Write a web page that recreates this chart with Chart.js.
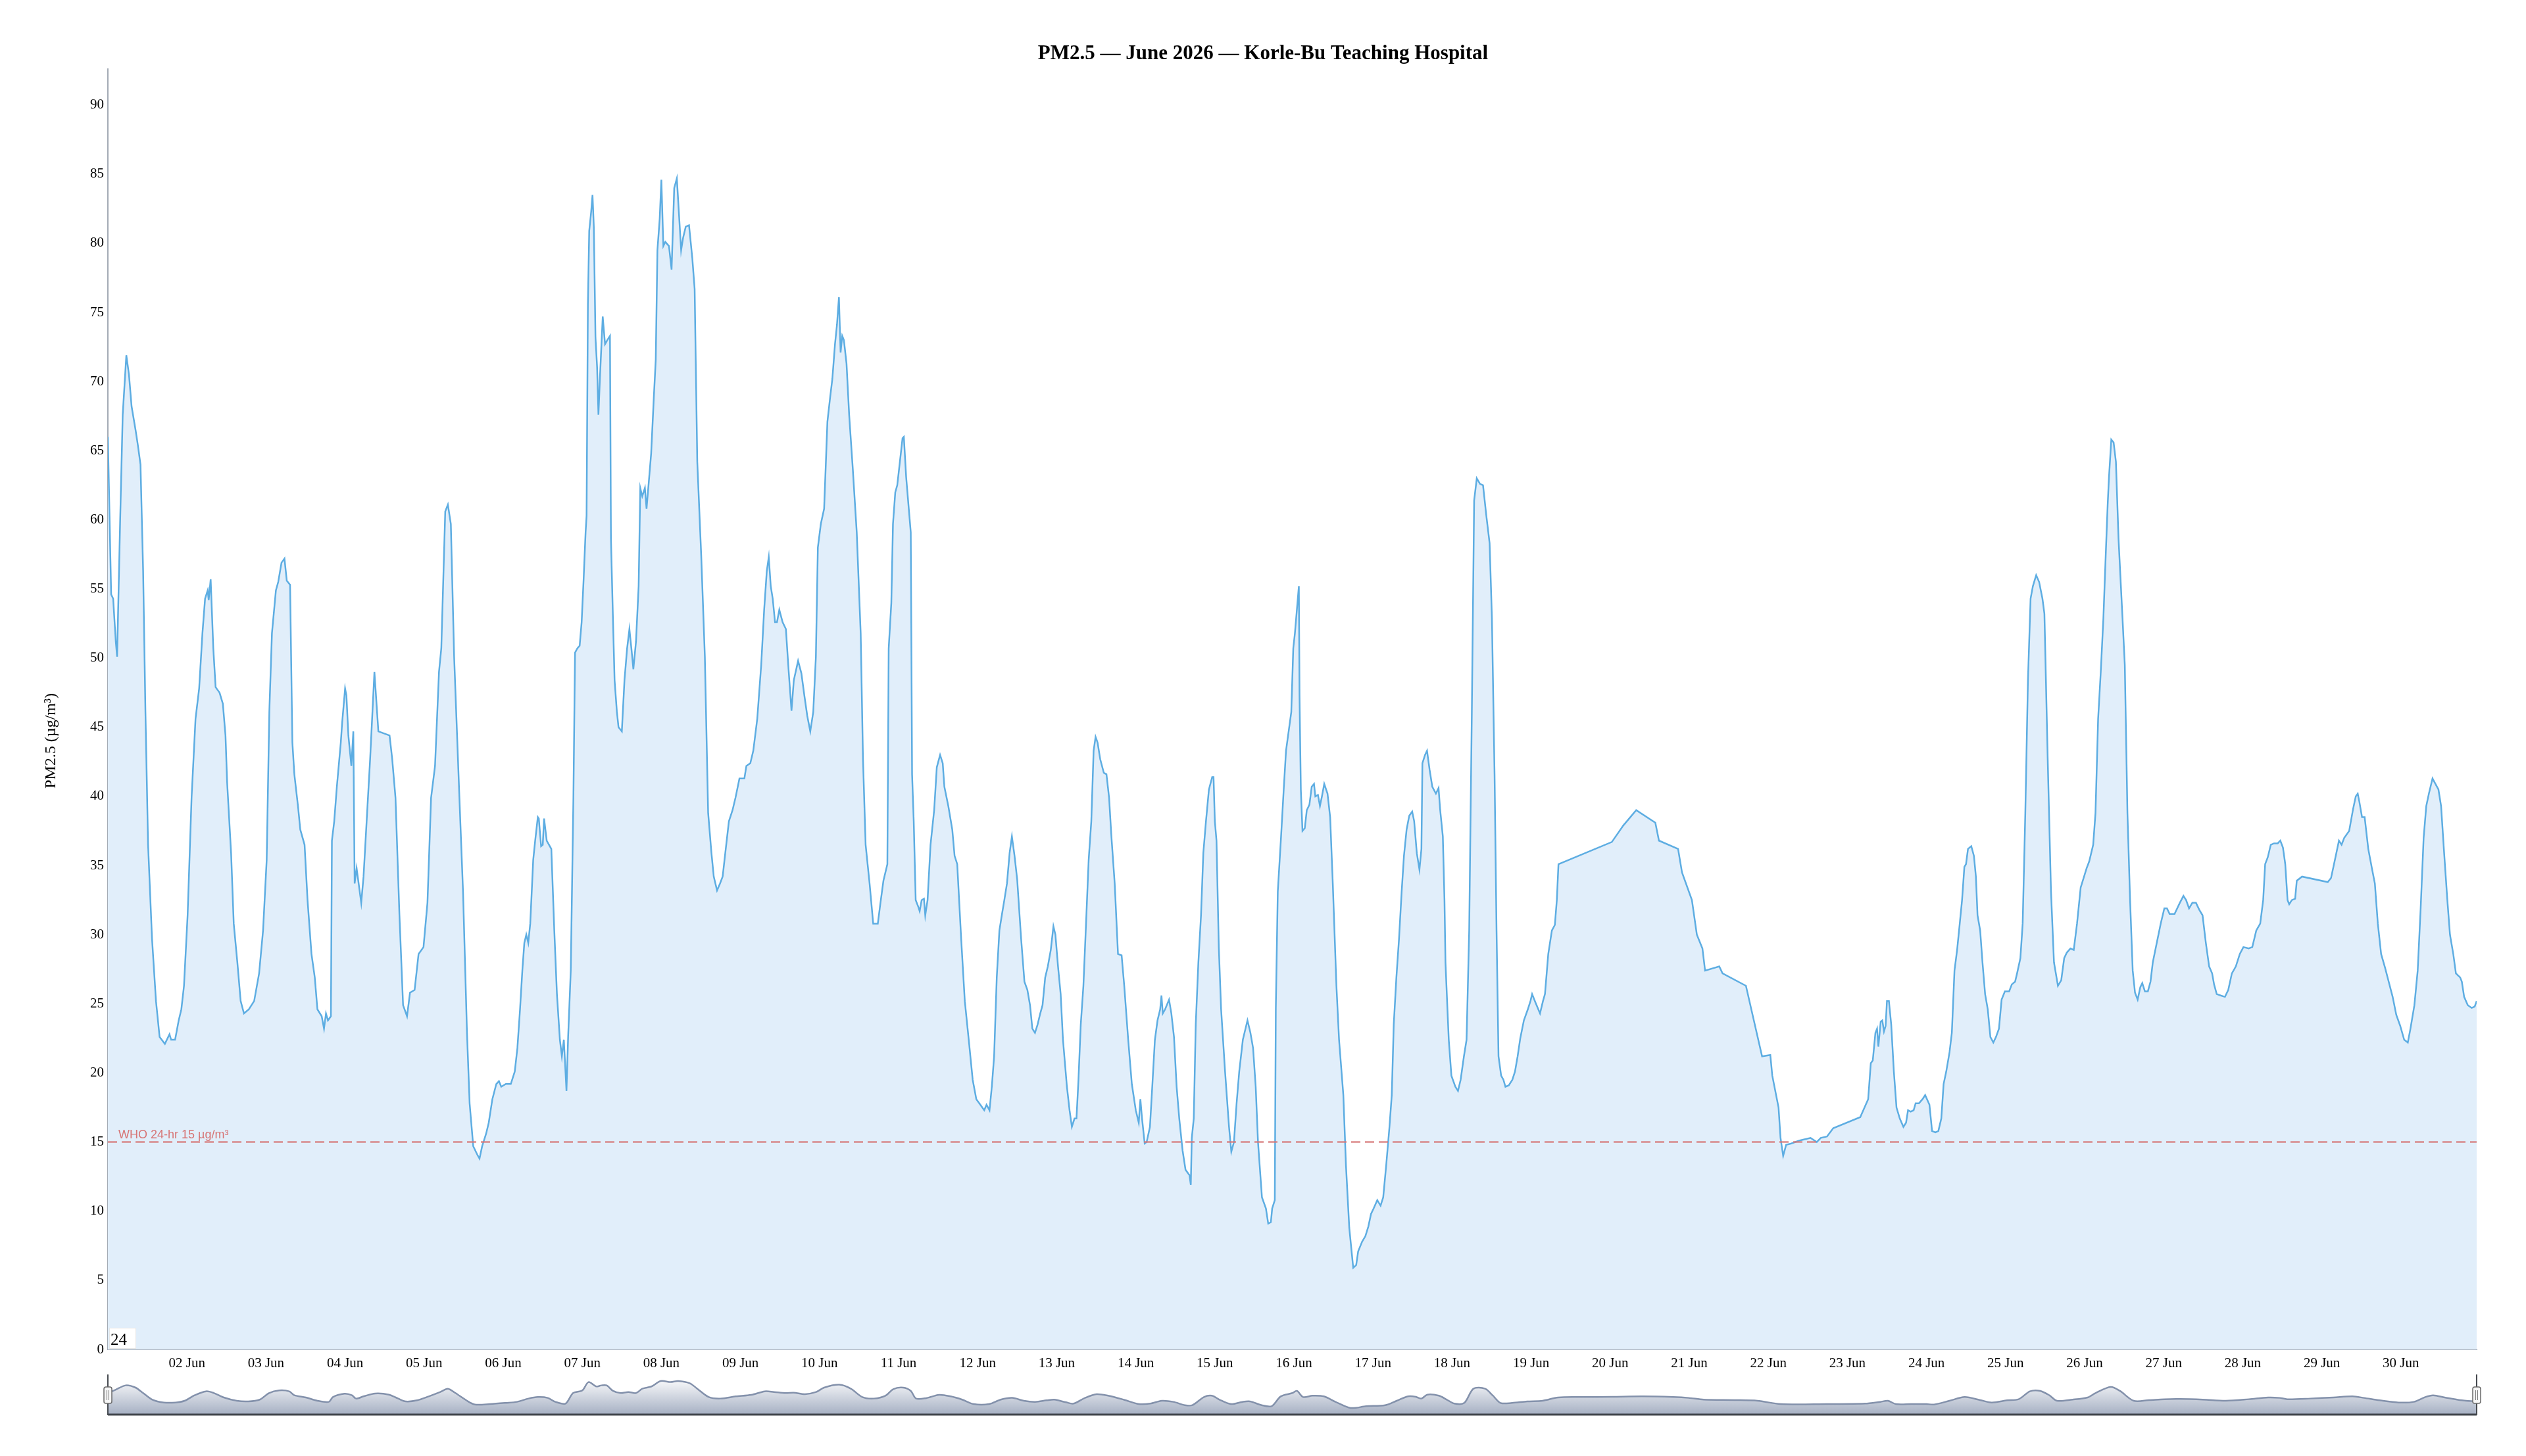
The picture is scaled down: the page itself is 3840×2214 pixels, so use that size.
<!DOCTYPE html>
<html>
<head>
<meta charset="utf-8">
<title>PM2.5 — June 2026 — Korle-Bu Teaching Hospital</title>
<script src="https://cdn.jsdelivr.net/npm/chart.js@4.4.1/dist/chart.umd.min.js"></script>
<style>
  html, body { margin: 0; padding: 0; background: #ffffff; overflow: hidden; }
  #mainChart { position: absolute; left: 0; top: 0; }
  #rangeChart { position: absolute; left: 0; top: 2085px; }
</style>
</head>
<body>
<canvas id="mainChart" width="3840" height="2214"></canvas>
<canvas id="rangeChart" width="3840" height="75"></canvas>
<script>
// hours since 01 Jun 00:00 and the PM2.5 reading at that hour (µg/m³)
const hours = [
  0,1,1.6,2.4,2.8,3.7,4.5,5.6,6.4,7.2,8.4,9.1,
  9.9,10.7,11.4,12.2,13.4,14.6,15.7,17.3,18.7,19.2,20.4,21.5,
  22.3,23.1,24.2,25.4,26.6,27.7,28.7,29.5,30.3,30.6,31.2,32,
  32.7,33.9,34.9,35.7,36.2,37.4,38.2,39.3,40.3,41.3,42.8,44.4,
  45.9,47.1,48.2,49,49.8,51,51.7,52.7,53.6,54.3,55.3,56,
  56.6,57.7,58.4,59.7,60.6,61.8,62.8,63.6,64.9,65.6,66.2,66.8,
  67.7,68,68.7,69.5,70.7,71.1,72,72.4,73,73.9,74.5,74.9,
  75.5,76.9,77.6,78.4,79.6,80.9,82.1,85.5,86.3,87.3,88.5,89.6,
  90.8,91.7,93.1,94.3,95.8,97,98.1,99.3,100.5,101.2,102.4,103.2,
  104.1,105.1,106.7,107.8,109,109.8,110.9,112.1,112.8,113.6,114.8,115.6,
  116.7,117.9,118.7,119.4,
  120.8,122.3,123.5,124.3,125.1,125.8,126.4,127,127.6,128.2,129.1,129.7,
  130.5,130.8,131.5,132,132.4,133.2,133.9,134.6,135.5,136.3,137.2,137.8,
  138.4,139.2,139.7,140.5,141.3,141.8,142.5,143.2,143.8,144.4,145,145.3,
  145.7,146.1,146.7,147.1,147.5,148,148.5,148.9,149.4,150.2,150.9,151.6,
  152.4,152.7,153.3,153.8,154.5,155,156,156.8,157.6,158.3,158.9,159.5,
  160.3,161.1,161.6,162.2,163,163.5,164.1,164.9,165.7,166.3,166.8,167.5,
  168,168.6,169.2,170.3,171.1,171.9,172.7,173.3,174,174.6,175.4,176.4,
  177.4,178.1,178.9,180.1,181.2,182.2,183.2,183.9,184.9,185.8,186.6,187.4,
  188.5,189.6,190.5,191.7,193.2,193.8,195,195.9,197.1,198.3,199.2,200,
  200.6,201.2,201.8,202.5,203.1,203.8,204.8,205.8,206.6,207.5,208.2,209.5,
  210.5,211.4,212.3,213.2,214.1,214.9,215.5,216.4,217.4,218.4,219.2,219.9,
  220.7,221.3,221.9,222.4,222.9,223.4,224.2,225,226.1,227.3,228.5,229.2,
  230,231.2,232.3,233.7,234.5,235.4,236.6,237,237.8,238.3,239,
  239.6,240.4,241.2,241.6,242.3,243.1,243.7,244.1,244.6,245.2,246,246.4,
  247,247.7,248.1,248.8,249.7,250.8,251.6,252.6,253.4,253.9,255.1,256.3,
  257,257.8,259,260.1,261.3,262.5,263.6,264.8,266,266.7,267.6,268.3,
  269,269.8,270.6,271.4,272.1,272.9,273.7,274.4,275.2,276,277.2,278.2,
  279.1,279.9,280.6,281.4,282.2,283,283.7,284.5,285.3,286.2,287,287.6,
  288.4,289.2,289.9,291.1,291.9,292.6,293.4,294,294.6,295.3,296.1,296.9,
  297.7,298.5,299.2,299.8,300.4,301.2,302.3,303.1,303.9,304.6,305.6,306.6,
  307.7,308.5,309.7,310.8,312,312.9,313.4,313.9,314.7,315.3,316.3,317,
  317.8,318.6,319.4,319.8,320.2,320.9,322.1,322.8,323.6,324.4,325.2,326.2,
  327.1,328.3,328.7,329,329.6,330.2,331,331.8,332.5,333.3,334.2,335.2,
  335.6,336,336.5,337.2,337.9,339.1,340.3,341,341.8,342.6,343.4,344.5,
  345.3,345.9,346.8,347.6,348.4,349.1,350.3,351.5,352.2,353,353.4,354.2,
  354.5,355.1,356.1,356.9,357.6,
  359.2,359.8,360.3,360.9,361.5,361.7,362.1,362.6,363.3,363.9,364.7,365.4,
  366.1,366.5,367.3,367.9,368.5,369.2,370.2,371,371.8,372.9,373.7,375,
  375.8,376.8,378,378.9,379.5,380.7,381.7,382.6,383.4,384.2,385.3,386.3,
  387.1,388,389,389.7,390.3,391.1,391.9,392.7,393.4,394.2,395,395.9,
  396.5,397.3,398.1,398.7,399,399.8,400.4,401.2,402,403.1,403.9,404.4,
  405.2,405.7,406,406.6,407,407.8,409,409.8,410.6,411.6,412.4,413.2,
  414,414.7,415.5,416.5,417.4,418.4,419.4,420.1,420.9,421.5,422.1,422.9,
  423.6,424.2,425.2,426.3,427.1,427.9,428.7,429.8,431,431.8,432.3,433.3,
  434.7,435.6,436.2,437.2,438.3,439.2,439.8,440.3,456.5,460,463.9,469.7,
  470.8,476.6,477.8,
  480.8,482.3,484,484.8,489.1,490.1,497.2,502.1,504.6,505.2,507.1,507.7,
  508.5,509.4,511,513.3,516.8,518.7,519.9,521.8,523.7,531.9,534.3,535.1,
  535.7,536.5,537,537.4,538.1,538.6,539.1,539.6,540,540.6,541.3,542.1,
  542.9,543.9,545,545.8,546.4,547.2,548.1,548.7,549.7,550.8,551.6,552.9,
  553.7,554.7,555.6,556.5,557.2,558,559,559.7,560.5,561.3,562.1,562.8,
  563.5,564,564.6,565.6,566.4,567,567.5,568.3,569,569.8,570.6,571.4,
  572.3,573.1,574,574.8,575.8,577.1,577.9,578.9,579.5,580.5,581.2,582,
  582.8,583.6,584.3,585.3,586.2,587.2,587.8,588.8,589.8,590.7,591.9,592.9,
  593.8,594.6,595.7,596.7,597.7,598.8,
  600.6,601.4,602.6,603.3,604.1,604.9,605.7,606.4,607,607.4,608.1,608.8,
  609.5,610.3,611.5,612.2,613,613.8,614.6,615.3,616.1,616.9,617.5,618.3,
  619.2,620,620.7,621.9,623.1,624.2,625,625.8,627.3,628.9,630,630.8,
  631.7,632.7,633.8,634.8,635.8,636.8,637.8,638.7,639.3,640.1,641.3,642.6,
  643.6,644.7,645.9,647.1,648.2,649.8,650.9,652.1,653.3,654.2,654.8,655.6,
  656.5,657.5,658.6,659.4,660.2,660.9,661.6,662.1,662.9,663.9,664.4,666,
  673.8,674.8,675.7,676.5,677.2,678,678.8,680.3,681.5,682.3,682.9,683.4,
  684.2,685,686.1,687.2,688.1,689,690,691.2,692.3,693.5,694.6,695.8,
  697,698.1,698.9,700.1,701.1,702,702.9,703.7,704.5,705.6,706.5,707.4,
  708.2,709.1,710.1,710.9,711.9,712.7,714,714.5,715.2,716.3,717.5,718.4,719
];

const pm25 = [
  66,54.6,54.3,51.2,50.1,59.7,67.6,71.9,70.5,68.2,66.5,65.4,
  64,56.3,46.1,36.5,29.7,25.2,22.6,22.1,22.8,22.4,22.4,23.8,
  24.6,26.3,31.4,39.9,45.6,47.8,51.8,54.3,54.9,54.2,55.7,50.7,
  47.9,47.5,46.7,44.4,41,35.9,30.8,28,25.2,24.3,24.6,25.2,
  27.2,30.3,35.4,46.1,51.8,54.9,55.5,56.9,57.2,55.6,55.3,43.9,
  41.6,39.3,37.6,36.5,32.5,28.6,26.9,24.6,24.1,23.2,24.3,23.8,
  24.1,36.8,38.2,40.7,43.9,45.3,47.8,47.3,44.4,42.2,44.7,33.7,
  34.8,32.3,34.2,37.6,42.7,49,44.7,44.4,42.7,39.9,31.4,24.9,
  24.1,25.8,26,28.6,29.1,32.3,39.9,42.2,49,50.7,60.6,61.1,
  59.7,50.1,39.9,33.1,22.9,17.8,14.7,14.1,13.8,14.7,15.6,16.4,
  18.1,19.2,19.4,19,
  19.2,19.2,20.1,21.8,24.6,27.4,29.4,30,29.4,30.8,35.4,36.8,
  38.5,38.4,36.4,36.5,38.4,36.8,36.5,36.2,30.3,25.7,22.4,21.2,
  22.4,18.7,22.6,27.4,39.9,50.4,50.7,50.9,52.6,55.7,59.1,60.3,
  75.6,80.9,82.3,83.5,81.2,73.2,71,67.6,70.5,74.7,72.7,73,
  73.3,58.6,52.9,48.4,46.1,45,44.7,48.4,50.7,52.1,50.7,49.2,
  51.2,55.2,62.3,61.7,62.3,60.8,62.5,64.8,68.8,71.6,79.5,81.8,
  84.6,79.8,80.1,79.8,78.1,84,84.7,82.3,79.5,80.4,81.2,81.3,
  78.9,76.7,64.2,57.4,50.1,38.8,35.9,34.2,33.2,33.7,34.2,35.9,
  38.2,39,39.9,41.3,41.3,42.2,42.4,43.3,45.6,49.5,53.5,56.3,
  57.3,55.2,54.3,52.6,52.6,53.5,52.6,52.1,49.2,46.2,48.4,49.8,
  48.9,47.3,45.8,44.7,46.1,50.1,58,59.7,60.8,67.1,68.8,70.2,
  72.7,74.1,76.1,72.1,73.3,73,71.3,67.6,63.7,59.1,51.8,42.7,
  36.5,33.7,30.8,30.8,32.3,33.9,35.1,50.7,54,59.7,62,
  62.5,64.2,65.9,66,63.1,60.8,59.1,41.6,38.2,32.5,32,31.7,
  32.5,32.6,31.4,32.5,36.5,39,42.1,43,42.4,40.7,39.3,37.6,
  35.7,35.1,29.7,25.2,22.4,19.5,18.1,17.7,17.3,17.7,17.3,19,
  21.2,26.9,30.3,31.5,32.5,33.7,35.9,37.1,35.7,34,29.7,26.6,
  26,24.9,23.2,22.9,23.5,24.3,24.9,26.9,27.7,28.9,30.6,30,
  27.7,25.7,22.4,19,17.3,16.1,16.7,16.7,19.5,23.5,26.3,30.8,
  35.4,38.2,43.3,44.3,43.9,42.7,41.7,41.6,39.9,37.1,33.7,28.6,
  28.5,26.3,22.4,19.2,17.3,16.4,18.1,16.7,14.9,15,16.1,19,
  22.4,23.8,24.6,25.6,24.3,24.6,25.3,24.3,22.6,19,16.7,14.4,
  13,12.6,11.9,15.3,16.7,23.5,28,31.4,35.9,38.2,40.5,41.4,
  41.4,38.2,36.8,29.1,24.6,20.1,16.1,14.3,15,17.8,20.1,22.4,
  23.2,23.8,22.9,21.8,19,15,11,10.2,9.1,9.2,10.2,10.8,
  24.6,33.1,37.1,40.5,43.3,
  46.1,50.7,51.8,53.5,55.2,47.3,40.5,37.5,37.7,39,39.4,40.7,
  40.9,40,40.1,39.3,40,40.9,40.2,38.5,33.7,26.3,22.4,18.4,
  13.3,8.8,5.9,6.1,7.1,7.8,8.2,8.9,9.8,10.2,10.8,10.4,
  11,13.3,16.1,18.4,23.5,26.9,29.7,33.1,35.7,37.6,38.6,38.9,
  38.2,35.9,34.7,36.2,42.4,43,43.3,41.9,40.7,40.2,40.6,39,
  37.1,32.5,28,24.6,22.4,19.8,19,18.7,19.5,21.2,22.4,30.3,
  46.1,61.4,63,62.6,62.5,60.3,58.3,52.9,41.6,30.3,21.2,19.8,
  19.5,19,19.1,19.5,20.1,21.2,22.5,23.8,24.6,25.2,25.7,25.1,
  24.3,25.2,25.7,28.6,30.3,30.7,32.5,35.1,36.7,37.9,39,38.1,
  36.8,36.2,34.5,
  32.5,30,29,27.4,27.7,27.2,26.3,21.2,21.3,19.8,17.5,15.3,
  14,14.8,14.9,15.1,15.3,15,15.3,15.4,16,16.8,18.1,20.7,
  20.9,22.9,23.2,21.9,23.7,23.8,23,23.4,25.2,25.2,23.5,20.1,
  17.5,16.7,16.1,16.4,17.3,17.2,17.3,17.8,17.8,18.1,18.4,17.7,
  15.8,15.7,15.8,16.7,19.2,20.1,21.5,22.9,27.4,28.9,30.8,32.5,
  34.9,35.1,36.2,36.4,35.7,34.2,31.4,30.3,28,25.7,24.6,22.6,
  22.2,22.6,23.2,25.3,25.9,25.9,26.4,26.6,27.2,28.3,30.8,38.8,
  48.4,54.3,55.2,56,55.5,54.3,53.2,42.7,33.1,28,26.3,26.7,
  28.3,28.7,29,28.9,30.8,33.4,
  34.8,35.3,36.5,38.8,45.6,49,52.9,57.4,61.1,63.1,65.8,65.6,
  64.2,58.6,52.9,49.5,38.8,32.5,27.4,25.8,25.3,26.2,26.5,25.9,
  25.9,26.6,28,29.4,30.8,31.9,31.9,31.5,31.5,32.3,32.8,32.5,
  31.9,32.3,32.3,31.8,31.4,29.4,27.7,27.2,26.4,25.7,25.6,25.5,
  26,27.2,27.7,28.6,29.1,29,29.1,30.3,30.8,32.5,35.1,35.6,
  36.5,36.6,36.6,36.8,36.3,35.1,32.5,32.2,32.5,32.6,33.9,34.2,
  33.8,34.1,35.1,36,36.8,36.5,37,37.5,39.1,40,40.2,39.6,
  38.5,38.5,36.2,34.8,33.7,30.8,28.6,27.6,26.6,25.5,24.2,23.4,
  22.4,22.2,23.2,24.9,27.4,31.9,37,39.3,40.2,41.3,40.9,40.5,
  39.3,36,32.5,30,28.6,27.2,26.9,26.6,25.5,24.9,24.7,24.8,25.2
];

// smoothed overview trace shown in the range strip under the chart
const miniHours = [
  0,2.3,5.4,8.4,10.7,13.5,17,20.5,23.3,26.3,29.8,32.2,
  35.2,39.1,42.6,46.1,48.9,52,55,56.6,60.1,63.6,67.1,68.3,
  71.8,74.1,75.3,77.6,81.1,85.3,88.1,90.4,93.9,97.4,100.9,103.2,
  105.5,109,111.4,116,120.7,124.2,127.7,130.5,133.5,135.8,138.9,141.2,
  144,145.9,148.2,149.8,151.4,153.3,155.6,158,160.3,162.2,165,167.8,
  170.8,173.1,176.6,178.9,182.4,185.9,190.6,195.3,199.4,202.2,205.7,208.1,
  211.6,215,217.4,222,225.5,229,232.5,236,238.4,241.4,243.7,245.3,
  248.4,252.3,255.8,259.3,262.8,267.5,271,274.5,278,281.5,285,287.3,
  290.8,293.1,296.6,300.1,303.6,308.3,312.9,316.4,319.9,323.4,326.9,329.2,
  332.7,335.1,337.4,340.9,344.4,346.7,350.2,353.2,356,359.5,
  360.9,362.8,365.6,369.1,372.6,377.2,381.9,387.7,391.2,394.7,397,398.7,
  400.5,404,406.4,408.7,411.7,414.5,418,420.3,422.7,426.2,430.8,435.5,
  440.2,447.1,456.5,465.8,475.1,479.8,484.4,493.7,500.7,507.7,521.7,533.3,
  538,540.3,542.7,547.3,552,554.3,559,563.6,568.3,571.8,576.5,580,
  583.4,586.5,589.3,591.6,596.3,600.9,603.3,607.9,610.7,614.9,619.6,624.2,
  628.9,635.9,642.9,649.9,655.7,659.2,661.5,668.5,675.5,681.3,684.8,689.5,
  695.3,699.9,703.4,705.8,709.3,713.9,718.6,719
];

const miniPm25 = [
  44.2,51.2,60.5,55.8,44.2,30.3,24.2,24.2,27.9,39.5,47.9,44.2,
  34.9,27.9,26.5,30.3,44.2,49.8,47.9,39.5,34.9,27.9,25.6,35.8,
  42.8,39.5,32.6,37.2,43.3,40.9,32.6,26.5,28.9,37.2,46.5,53.5,
  44.2,27.9,20,20.9,23.3,25.6,32.6,35.8,34,25.6,21.9,44.2,
  49.8,67.5,58.2,60.5,60.5,48.9,44.2,46.5,44.2,53.5,58.2,69.8,
  67.5,69.8,65.1,53.5,35.8,32.6,37.2,40.5,47.9,46.5,44.2,45.1,
  41.9,46.5,55.8,61.9,53.5,35.8,32.6,38.6,52.6,55.8,48.9,32.6,
  33.5,40.5,37.2,30.3,20.9,20.9,30.3,34,27.9,25.6,28.9,30.3,
  24.7,21.9,34,41.9,38.6,30.3,20.9,21.9,27.9,25.6,18.6,18.6,
  35.8,38.6,30.3,20.9,25.6,26.5,18.6,16.3,37.2,44.2,
  48.9,35.8,38.6,37.2,25.6,12.6,16.3,18.6,27.9,37.2,36.3,32.6,
  40.9,38.6,30.3,21.9,23.3,53.5,53.5,39.5,23.3,23.3,26.5,27.9,
  34.9,35.8,36.3,37.2,35.8,34,30.3,29.3,27.9,20.9,20.9,21.9,
  25.6,27.9,20.9,20.9,20.9,20,27.9,35.8,29.3,24.2,28.9,31.2,
  47.9,48.9,39.5,27.9,30.3,34.9,44.2,57.2,48.9,27.9,29.3,31.2,
  31.6,30.3,27.9,31.2,34.9,34,31.2,32.6,34.9,37.2,34,28.9,
  24.2,25.6,35.8,39.5,34.9,29.3,26.5,26.5
];

// x axis: one tick at midnight of each day from 02 Jun to 30 Jun
const dayTicks = [24,48,72,96,120,144,168,192,216,240,264,288,312,336,360,
  384,408,432,456,480,504,528,552,576,600,624,648,672,696];
const tickLabels = ['02 Jun','03 Jun','04 Jun','05 Jun','06 Jun','07 Jun','08 Jun',
  '09 Jun','10 Jun','11 Jun','12 Jun','13 Jun','14 Jun','15 Jun','16 Jun','17 Jun',
  '18 Jun','19 Jun','20 Jun','21 Jun','22 Jun','23 Jun','24 Jun','25 Jun','26 Jun',
  '27 Jun','28 Jun','29 Jun','30 Jun'];

const whoLimit = 15;
const whoLabel = 'WHO 24-hr 15 µg/m³';
const rollPeriod = '24';
const chartTitle = 'PM2.5 — June 2026 — Korle-Bu Teaching Hospital';
const yTitle = 'PM2.5 (µg/m³)';

if (hours.length !== pm25.length) console.log('length mismatch', hours.length, pm25.length);
if (miniHours.length !== miniPm25.length) console.log('mini mismatch', miniHours.length, miniPm25.length);

Chart.defaults.font.family = "'Liberation Serif', 'Times New Roman', serif";
Chart.defaults.color = '#000000';

// title, WHO guideline, y-axis title and the roll-period box
const extrasPlugin = {
  id: 'extras',
  afterDatasetsDraw(chart) {
    const ctx = chart.ctx;
    const area = chart.chartArea;
    const y = chart.scales.y.getPixelForValue(whoLimit);
    ctx.save();
    ctx.strokeStyle = 'rgba(214,120,120,0.85)';
    ctx.lineWidth = 2.5;
    ctx.setLineDash([14, 7]);
    ctx.beginPath();
    ctx.moveTo(area.left, y);
    ctx.lineTo(area.right, y);
    ctx.stroke();
    ctx.setLineDash([]);
    ctx.fillStyle = 'rgba(214,110,110,0.95)';
    ctx.font = "18px 'Liberation Sans', Arial, sans-serif";
    ctx.textAlign = 'left';
    ctx.textBaseline = 'alphabetic';
    ctx.fillText(whoLabel, area.left + 16, y - 6);
    ctx.restore();
  },
  afterDraw(chart) {
    const ctx = chart.ctx;
    const area = chart.chartArea;
    ctx.save();
    ctx.font = "bold 31px 'Liberation Serif', serif";
    ctx.fillStyle = '#000';
    ctx.textAlign = 'center';
    ctx.textBaseline = 'middle';
    ctx.fillText(chartTitle, chart.width / 2, 82);

    // rotated y title
    ctx.translate(78, (area.top + area.bottom) / 2 + 48);
    ctx.rotate(-Math.PI / 2);
    ctx.font = "24px 'Liberation Serif', serif";
    ctx.fillText(yTitle, 0, 0);
    ctx.restore();

    // roll period input box
    ctx.save();
    ctx.fillStyle = '#ffffff';
    ctx.fillRect(area.left + 2, area.bottom - 33, 41, 32);
    ctx.strokeStyle = '#e6e6e6';
    ctx.lineWidth = 1;
    ctx.strokeRect(area.left + 2.5, area.bottom - 32.5, 40, 31);
    ctx.fillStyle = '#000';
    ctx.font = "25px 'Liberation Serif', serif";
    ctx.textAlign = 'left';
    ctx.textBaseline = 'alphabetic';
    ctx.fillText(rollPeriod, area.left + 4, area.bottom - 7);
    ctx.restore();
  }
};

const mainCtx = document.getElementById('mainChart').getContext('2d');
const mainChart = new Chart(mainCtx, {
  type: 'line',
  data: {
    datasets: [{
      label: 'PM2.5',
      data: hours.map((h, i) => ({ x: h, y: pm25[i] })),
      borderColor: '#5dade2',
      borderWidth: 2.5,
      backgroundColor: '#e1eefa',
      fill: 'origin',
      pointRadius: 0,
      tension: 0
    }]
  },
  options: {
    responsive: false,
    animation: false,
    devicePixelRatio: 1,
    layout: { padding: { left: 0, right: 75, top: 105, bottom: 0 } },
    plugins: {
      legend: { display: false },
      tooltip: { enabled: false },
      title: { display: false }
    },
    scales: {
      x: {
        type: 'linear',
        min: 0,
        max: 719,
        grid: { display: false, drawTicks: false },
        border: { display: true, color: '#a3aab4', width: 2 },
        afterBuildTicks: (scale) => {
          scale.ticks = dayTicks.map(v => ({ value: v }));
        },
        afterFit: (scale) => { scale.height = 162; },
        ticks: {
          autoSkip: false,
          maxRotation: 0,
          padding: 9,
          font: { size: 21 },
          color: '#000',
          callback: (value, index) => tickLabels[index]
        }
      },
      y: {
        min: 0,
        max: 92.6,
        grid: { display: false, drawTicks: false },
        border: { display: true, color: '#a3aab4', width: 2 },
        afterFit: (scale) => { scale.width = 164; },
        ticks: {
          stepSize: 5,
          includeBounds: false,
          padding: 6,
          font: { size: 21 },
          color: '#000'
        }
      }
    }
  },
  plugins: [extrasPlugin]
});

// range selector strip: bottom rule, side lines and the two handles
const rangePlugin = {
  id: 'rangeStrip',
  afterDraw(chart) {
    const ctx = chart.ctx;
    const area = chart.chartArea;
    ctx.save();
    ctx.strokeStyle = '#40454c';
    ctx.lineWidth = 3;
    ctx.beginPath();
    ctx.moveTo(area.left, area.bottom + 1);
    ctx.lineTo(area.right, area.bottom + 1);
    ctx.stroke();
    [area.left, area.right].forEach(x => {
      ctx.strokeStyle = '#45494f';
      ctx.lineWidth = 2;
      ctx.beginPath();
      ctx.moveTo(x, 5);
      ctx.lineTo(x, area.bottom + 2);
      ctx.stroke();
      // handle body
      const w = 12, h = 25, top = 24;
      ctx.beginPath();
      ctx.roundRect(x - w / 2, top, w, h, 3);
      ctx.fillStyle = '#f6f6f6';
      ctx.fill();
      ctx.strokeStyle = '#6a6a6a';
      ctx.lineWidth = 1.5;
      ctx.stroke();
      ctx.strokeStyle = '#7a7a7a';
      ctx.lineWidth = 1;
      ctx.beginPath();
      ctx.moveTo(x - 1.5, top + 5); ctx.lineTo(x - 1.5, top + h - 5);
      ctx.moveTo(x + 1.5, top + 5); ctx.lineTo(x + 1.5, top + h - 5);
      ctx.stroke();
    });
    ctx.restore();
  }
};

const rangeCtx = document.getElementById('rangeChart').getContext('2d');
const rangeChart = new Chart(rangeCtx, {
  type: 'line',
  data: {
    datasets: [{
      data: miniHours.map((h, i) => ({ x: h, y: miniPm25[i] })),
      borderColor: '#8391ab',
      borderWidth: 2.5,
      fill: 'origin',
      backgroundColor: (context) => {
        const area = context.chart.chartArea;
        if (!area) return '#c8cfdb';
        const g = context.chart.ctx.createLinearGradient(0, area.top, 0, area.bottom);
        g.addColorStop(0, '#ffffff');
        g.addColorStop(1, '#a7b1c4');
        return g;
      },
      pointRadius: 0,
      tension: 0.3
    }]
  },
  options: {
    responsive: false,
    animation: false,
    devicePixelRatio: 1,
    layout: { padding: { left: 164, right: 75, top: 9, bottom: 10 } },
    plugins: { legend: { display: false }, tooltip: { enabled: false } },
    scales: {
      x: { type: 'linear', min: 0, max: 719, display: false },
      y: { min: 0, max: 78.1, display: false }
    }
  },
  plugins: [rangePlugin]
});
</script>
</body>
</html>
